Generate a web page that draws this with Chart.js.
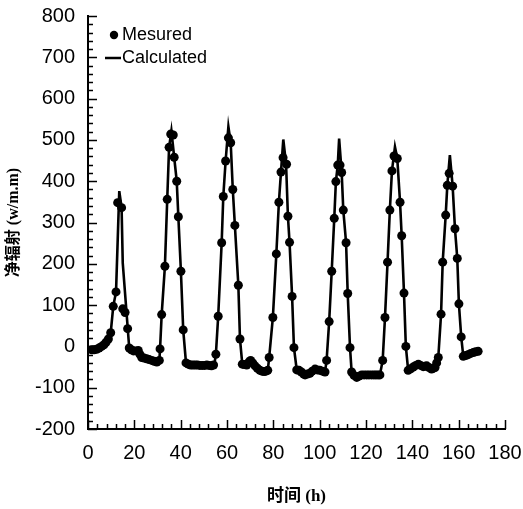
<!DOCTYPE html>
<html>
<head>
<meta charset="utf-8">
<script src="https://cdn.jsdelivr.net/npm/chart.js@4.4.1/dist/chart.umd.min.js"></script>
<style>
  html, body { margin: 0; padding: 0; background: #fff; }
  #wrap { width: 523px; height: 509px; position: relative; }
</style>
</head>
<body>
<div id="wrap"><canvas id="netRadChart"></canvas></div>
<script>
// measured points (hour, W/m2)
const measuredHours = [
  1.6, 2.6, 3.7, 4.8, 5.9, 6.9, 7.8, 8.8, 9.8, 10.9, 12.1, 12.8, 14.5, 15.0, 16.0, 17.1,
  17.8, 18.7, 19.6, 20.6, 21.7, 22.5, 23.2, 24.2, 25.3, 26.4, 27.5, 28.6, 29.7, 30.8,
  31.1, 31.8, 33.2, 34.2, 35.0, 35.7, 36.8, 37.2, 38.3, 39.0, 40.1, 41.1,
  42.3, 43.3, 44.3, 45.3, 46.3, 47.3, 48.3, 49.3, 50.3, 51.3, 52.3, 53.3, 54.2,
  55.2, 56.2, 57.7, 58.4, 59.4, 60.6, 61.6, 62.5, 63.4, 64.9, 65.6,
  66.6, 67.5, 68.5, 69.4, 70.2, 71.1, 72.1, 73.1, 74.2, 75.1, 76.0, 76.8, 77.6,
  78.2, 79.8, 81.3, 82.4, 83.3, 84.2, 85.7, 86.3, 87.0, 88.1, 88.9,
  90.1, 91.1, 92.1, 93.1, 93.7, 94.7, 95.8, 96.8, 98.0, 99.0, 100.1, 101.2, 102.3,
  103.0, 104.1, 105.2, 106.3, 107.0, 107.8, 108.8, 109.5, 110.2, 111.4, 112.1, 113.1,
  113.8, 114.8, 116.0, 117.0, 118.1, 119.2, 120.3, 121.3, 122.4, 123.4, 124.3, 125.2, 126.0,
  127.2, 128.2, 129.3, 130.3, 131.2, 132.1, 133.5, 134.7, 135.4, 136.4, 137.2,
  138.2, 139.3, 140.4, 141.5, 142.6, 143.6, 144.7, 145.4, 146.2, 147.2, 148.3, 149.0, 149.8, 150.5,
  151.2, 152.4, 153.1, 154.4, 155.1, 155.9, 157.4, 158.4, 159.4, 160.1, 161.1,
  162.0, 163.0, 164.1, 165.2, 166.3, 167.3, 168.4
];
const measuredValues = [
  -8, -8, -7, -4, 0, 4, 10, 18, 33, 97, 132, 348, 336, 91, 82, 43,
  -4, -8, -11, -11, -10, -20, -27, -28, -30, -32, -34, -36, -38, -34,
  -6, 77, 194, 356, 482, 514, 512, 458, 400, 314, 182, 40,
  -40, -43, -45, -45, -45, -45, -46, -46, -46, -45, -46, -47, -45,
  -19, 73, 251, 363, 449, 505, 493, 380, 293, 148, 18,
  -43, -44, -45, -38, -34, -40, -47, -53, -58, -60, -61, -60, -58,
  -27, 70, 224, 349, 422, 457, 441, 315, 252, 121, -3,
  -57, -58, -62, -67, -69, -67, -65, -60, -55, -57, -58, -60, -62,
  -34, 60, 182, 310, 399, 439, 439, 421, 330, 251, 128, -3,
  -62, -70, -75, -72, -69, -69, -69, -69, -69, -69, -69, -69, -69,
  -34, 70, 204, 330, 425, 461, 455, 349, 268, 129, 0,
  -58, -54, -50, -46, -43, -46, -49, -48, -47, -51, -55, -53, -51, -40,
  -27, 78, 204, 318, 390, 419, 388, 285, 213, 103, 23,
  -24, -22, -20, -17, -15, -13, -12
];

// calculated curve (hour, W/m2)
const calcHours = [
  1.0, 3.7, 5.9, 7.8, 9.8, 10.9, 12.1, 13.5, 14.5, 15.0, 17.8, 19.6, 21.7, 23.2, 25.3, 27.5,
  29.7, 30.8, 31.1, 31.8, 33.2, 34.2, 35.0, 36.0, 37.2, 38.3, 39.0, 40.1, 41.1, 42.3,
  54.5, 55.2, 56.2, 57.7, 58.4, 59.4, 60.6, 61.6, 62.5, 63.4, 64.9, 65.6, 66.6, 68.5,
  70.2, 72.1, 74.2, 76.0, 77.6, 78.2, 79.8, 81.3, 82.4, 83.3, 84.3, 85.5, 86.3, 87.0,
  88.1, 88.9, 90.1, 93.7, 95.8, 98.0, 100.1, 102.3, 103.0, 104.1, 105.2, 106.3, 107.0,
  107.8, 108.4, 109.5, 110.2, 111.4, 112.1, 113.1, 113.8, 116.0, 118.1, 126.0, 127.2,
  128.2, 129.3, 130.3, 131.2, 132.5, 133.5, 134.7, 135.4, 136.4, 137.2, 138.2, 140.4,
  142.6, 144.7, 146.2, 148.3, 149.8, 151.2, 152.4, 153.1, 154.4, 155.1, 156.2, 157.4,
  158.4, 159.4, 160.1, 161.1, 162.0, 164.1, 166.3, 168.4
];
const calcValues = [
  -8, -7, 0, 10, 33, 97, 132, 376, 336, 202, -4, -11, -10, -27, -30, -34,
  -38, -34, -6, 77, 194, 356, 482, 522, 458, 400, 314, 182, 40, -40,
  -45, -19, 73, 251, 363, 449, 532, 493, 380, 293, 148, 18, -43, -45,
  -34, -47, -58, -61, -58, -27, 70, 224, 349, 422, 501, 441, 315, 252,
  121, -3, -57, -69, -65, -55, -58, -62, -34, 60, 182, 310, 399,
  439, 503, 421, 330, 251, 128, -3, -62, -75, -69, -69, -34,
  70, 204, 330, 425, 483, 455, 349, 268, 129, 0, -58, -50,
  -43, -49, -47, -55, -51, -27, 78, 204, 318, 390, 463, 388,
  285, 213, 103, 23, -24, -20, -15, -12
];

const xMin = 0, xMax = 180, xStep = 20, xMinor = 4;
const yMin = -200, yMax = 800, yStep = 100, yMinor = 20;

const tickFont = { family: "'Liberation Sans', Arial, sans-serif", size: 20 };
const titleFamily = "'Liberation Serif', 'Noto Sans CJK SC', serif";

// inward major/minor tick marks + legend
const axisDecor = {
  id: "axisDecor",
  afterDraw(chart) {
    const { ctx, chartArea, scales } = chart;
    ctx.save();
    ctx.strokeStyle = "#000";
    ctx.lineWidth = 1.5;
    ctx.beginPath();
    for (let v = xMin; v <= xMax; v += xMinor) {
      const px = Math.round(scales.x.getPixelForValue(v)) + 0.5;
      const len = v % xStep === 0 ? 9 : 5;
      ctx.moveTo(px, chartArea.bottom);
      ctx.lineTo(px, chartArea.bottom - len);
    }
    for (let v = yMin; v <= yMax; v += yMinor) {
      const py = Math.round(scales.y.getPixelForValue(v)) + 0.5;
      const len = v % yStep === 0 ? 9 : 5;
      ctx.moveTo(chartArea.left, py);
      ctx.lineTo(chartArea.left + len, py);
    }
    ctx.stroke();

    // legend
    const lx = chartArea.left;
    const ly = chartArea.top;
    ctx.fillStyle = "#000";
    ctx.beginPath();
    ctx.arc(lx + 26, ly + 19, 4.2, 0, Math.PI * 2);
    ctx.fill();
    ctx.lineWidth = 2.5;
    ctx.beginPath();
    ctx.moveTo(lx + 17, ly + 42);
    ctx.lineTo(lx + 33, ly + 42);
    ctx.stroke();
    ctx.font = "18px 'Liberation Sans', Arial, sans-serif";
    ctx.textBaseline = "middle";
    ctx.textAlign = "left";
    ctx.fillText("Mesured", lx + 34, ly + 19);
    ctx.fillText("Calculated", lx + 34, ly + 42);
    ctx.restore();
  }
};

// fixed axis box sizes, no extra label overflow padding
function fixBox(size, horizontal) {
  return (scale) => {
    if (horizontal) scale.height = size; else scale.width = size;
    scale.paddingTop = 0;
    scale.paddingBottom = 0;
    scale.paddingLeft = 0;
    scale.paddingRight = 0;
  };
}

const ctx = document.getElementById("netRadChart").getContext("2d");

new Chart(ctx, {
  type: "scatter",
  data: {
    datasets: [
      {
        label: "Mesured",
        data: measuredHours.map((h, i) => ({ x: h, y: measuredValues[i] })),
        backgroundColor: "#000",
        borderWidth: 0,
        pointRadius: 4.5,
        pointHoverRadius: 4.5,
        showLine: false,
        order: 0,
      },
      {
        label: "Calculated",
        data: calcHours.map((h, i) => ({ x: h, y: calcValues[i] })),
        borderColor: "#000",
        borderWidth: 2.6,
        pointRadius: 0,
        showLine: true,
        tension: 0,
        order: 1,
      },
    ],
  },
  options: {
    responsive: true,
    maintainAspectRatio: false,
    animation: false,
    events: [],
    layout: { padding: { left: 0, right: 18, top: 16, bottom: 0 } },
    plugins: {
      legend: { display: false },
      tooltip: { enabled: false },
    },
    scales: {
      x: {
        type: "linear",
        min: xMin,
        max: xMax,
        grid: { display: false, drawTicks: false },
        border: { display: true, color: "#000", width: 2 },
        ticks: { stepSize: xStep, color: "#000", font: tickFont, padding: 12 },
        title: {
          display: true,
          text: "时间 (h)",
          color: "#000",
          font: { family: titleFamily, size: 17, weight: "bold" },
          padding: { top: 0, bottom: 2 },
        },
        afterFit: fixBox(80, true),
      },
      y: {
        type: "linear",
        min: yMin,
        max: yMax,
        grid: { display: false, drawTicks: false },
        border: { display: true, color: "#000", width: 2 },
        ticks: { stepSize: yStep, color: "#000", font: tickFont, padding: 13 },
        title: {
          display: true,
          text: "净辐射 (w/m.m)",
          color: "#000",
          font: { family: titleFamily, size: 16, weight: "bold" },
          padding: { top: 4, bottom: 0 },
        },
        afterFit: fixBox(88, false),
      },
    },
  },
  plugins: [axisDecor],
});
</script>
</body>
</html>
